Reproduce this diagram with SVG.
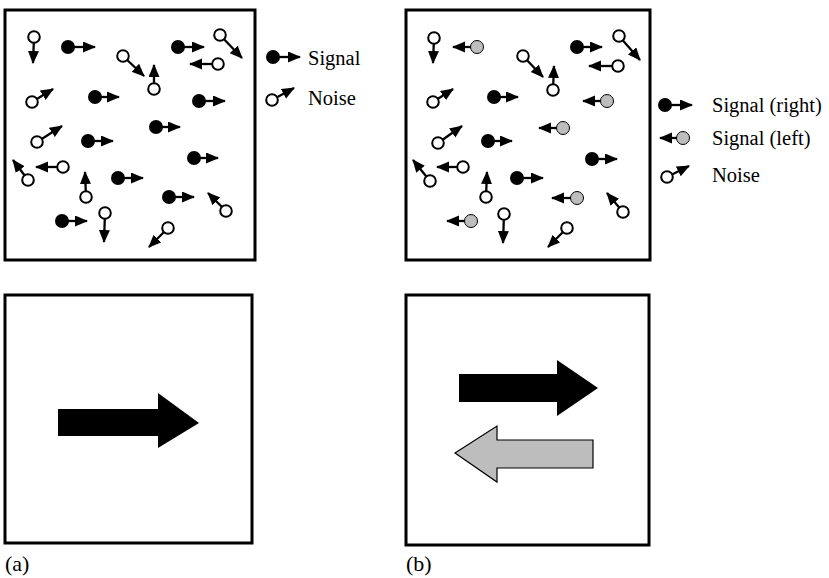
<svg xmlns="http://www.w3.org/2000/svg" width="829" height="578" viewBox="0 0 829 578">
<style>
.box{fill:none;stroke:#000;stroke-width:3}
.ln{stroke:#000;stroke-width:2.3;marker-end:url(#ah)}
.sig{fill:#000}
.gs{fill:#bdbdbd;stroke:#000;stroke-width:1}
.nz{fill:#fff;stroke:#000;stroke-width:2}
.t{font-family:"Liberation Serif","Times New Roman",serif;font-size:20.5px;fill:#000}
.lab{font-family:"Liberation Serif","Times New Roman",serif;font-size:22px;fill:#000}
</style>
<defs>
<marker id="ah" markerUnits="userSpaceOnUse" markerWidth="16" markerHeight="12" refX="12" refY="5.5" orient="auto">
<path d="M0,0 L13,5.5 L0,11 z" fill="#000"/>
</marker>
</defs>
<rect width="829" height="578" fill="#fff"/>

<g id="panel-a-top">
<rect class="box" x="5" y="10" width="250" height="250"/>
<g id="a-signals">
<line class="ln" x1="68" y1="47" x2="95" y2="47"/><circle class="sig" cx="68" cy="47" r="7"/>
<line class="ln" x1="178" y1="47" x2="204" y2="47"/><circle class="sig" cx="178" cy="47" r="7"/>
<line class="ln" x1="95" y1="97" x2="119" y2="97"/><circle class="sig" cx="95" cy="97" r="7"/>
<line class="ln" x1="199" y1="101" x2="225" y2="101"/><circle class="sig" cx="199" cy="101" r="7"/>
<line class="ln" x1="156" y1="127" x2="180" y2="127"/><circle class="sig" cx="156" cy="127" r="7"/>
<line class="ln" x1="88" y1="141" x2="113" y2="141"/><circle class="sig" cx="88" cy="141" r="7"/>
<line class="ln" x1="194" y1="158" x2="218" y2="158"/><circle class="sig" cx="194" cy="158" r="7"/>
<line class="ln" x1="118" y1="178" x2="143" y2="178"/><circle class="sig" cx="118" cy="178" r="7"/>
<line class="ln" x1="169" y1="197" x2="194" y2="197"/><circle class="sig" cx="169" cy="197" r="7"/>
<line class="ln" x1="62" y1="221" x2="87" y2="221"/><circle class="sig" cx="62" cy="221" r="7"/>
</g>
<g id="a-noise">
<line class="ln" x1="34" y1="37" x2="33" y2="63"/><circle class="nz" cx="34" cy="37" r="5.8"/>
<line class="ln" x1="123" y1="56" x2="144" y2="76"/><circle class="nz" cx="123" cy="56" r="5.8"/>
<line class="ln" x1="220" y1="35" x2="242" y2="58"/><circle class="nz" cx="220" cy="35" r="5.8"/>
<line class="ln" x1="218" y1="64" x2="190" y2="64"/><circle class="nz" cx="218" cy="64" r="5.8"/>
<line class="ln" x1="154" y1="89" x2="154" y2="65"/><circle class="nz" cx="154" cy="89" r="5.8"/>
<line class="ln" x1="32" y1="102" x2="53" y2="89"/><circle class="nz" cx="32" cy="102" r="5.8"/>
<line class="ln" x1="37" y1="142" x2="62" y2="126"/><circle class="nz" cx="37" cy="142" r="5.8"/>
<line class="ln" x1="63" y1="167" x2="36" y2="167"/><circle class="nz" cx="63" cy="167" r="5.8"/>
<line class="ln" x1="28" y1="180" x2="13" y2="160"/><circle class="nz" cx="28" cy="180" r="5.8"/>
<line class="ln" x1="86" y1="197" x2="85" y2="172"/><circle class="nz" cx="86" cy="197" r="5.8"/>
<line class="ln" x1="105" y1="213" x2="104" y2="242"/><circle class="nz" cx="105" cy="213" r="5.8"/>
<line class="ln" x1="226" y1="211" x2="208" y2="193"/><circle class="nz" cx="226" cy="211" r="5.8"/>
<line class="ln" x1="168" y1="228" x2="149" y2="247"/><circle class="nz" cx="168" cy="228" r="5.8"/>
</g>
</g>

<g id="legend-a">
<line class="ln" x1="273" y1="57" x2="300" y2="57"/><circle class="sig" cx="273" cy="57" r="7"/>
<text class="t" x="308" y="65">Signal</text>
<line class="ln" x1="272" y1="100" x2="294" y2="88"/><circle class="nz" cx="272" cy="100" r="5.8"/>
<text class="t" x="308" y="105">Noise</text>
</g>

<g id="panel-b-top">
<rect class="box" x="406" y="10" width="244" height="250"/>
<g id="b-signals">
<line class="ln" x1="477" y1="47" x2="453" y2="47"/><circle class="gs" cx="477" cy="47" r="6.5"/>
<line class="ln" x1="577" y1="47" x2="602" y2="47"/><circle class="sig" cx="577" cy="47" r="7"/>
<line class="ln" x1="494" y1="97" x2="518" y2="97"/><circle class="sig" cx="494" cy="97" r="7"/>
<line class="ln" x1="607" y1="101" x2="583" y2="101"/><circle class="gs" cx="607" cy="101" r="6.5"/>
<line class="ln" x1="563" y1="128" x2="539" y2="128"/><circle class="gs" cx="563" cy="128" r="6.5"/>
<line class="ln" x1="488" y1="141" x2="512" y2="141"/><circle class="sig" cx="488" cy="141" r="7"/>
<line class="ln" x1="592" y1="159" x2="617" y2="159"/><circle class="sig" cx="592" cy="159" r="7"/>
<line class="ln" x1="517" y1="178" x2="543" y2="178"/><circle class="sig" cx="517" cy="178" r="7"/>
<line class="ln" x1="577" y1="198" x2="552" y2="198"/><circle class="gs" cx="577" cy="198" r="6.5"/>
<line class="ln" x1="471" y1="221" x2="447" y2="221"/><circle class="gs" cx="471" cy="221" r="6.5"/>
</g>
<g id="b-noise">
<line class="ln" x1="434" y1="38" x2="433" y2="63"/><circle class="nz" cx="434" cy="38" r="5.8"/>
<line class="ln" x1="523" y1="56" x2="543" y2="77"/><circle class="nz" cx="523" cy="56" r="5.8"/>
<line class="ln" x1="619" y1="36" x2="640" y2="60"/><circle class="nz" cx="619" cy="36" r="5.8"/>
<line class="ln" x1="618" y1="66" x2="589" y2="66"/><circle class="nz" cx="618" cy="66" r="5.8"/>
<line class="ln" x1="553" y1="90" x2="554" y2="66"/><circle class="nz" cx="553" cy="90" r="5.8"/>
<line class="ln" x1="433" y1="102" x2="453" y2="89"/><circle class="nz" cx="433" cy="102" r="5.8"/>
<line class="ln" x1="438" y1="143" x2="462" y2="126"/><circle class="nz" cx="438" cy="143" r="5.8"/>
<line class="ln" x1="463" y1="167" x2="437" y2="167"/><circle class="nz" cx="463" cy="167" r="5.8"/>
<line class="ln" x1="430" y1="181" x2="413" y2="160"/><circle class="nz" cx="430" cy="181" r="5.8"/>
<line class="ln" x1="486" y1="197" x2="487" y2="172"/><circle class="nz" cx="486" cy="197" r="5.8"/>
<line class="ln" x1="504" y1="214" x2="503" y2="243"/><circle class="nz" cx="504" cy="214" r="5.8"/>
<line class="ln" x1="623" y1="212" x2="607" y2="193"/><circle class="nz" cx="623" cy="212" r="5.8"/>
<line class="ln" x1="567" y1="228" x2="548" y2="247"/><circle class="nz" cx="567" cy="228" r="5.8"/>
</g>
</g>

<g id="legend-b">
<line class="ln" x1="665" y1="105" x2="692" y2="105"/><circle class="sig" cx="665" cy="105" r="7"/>
<text class="t" x="712" y="112">Signal (right)</text>
<line class="ln" x1="683" y1="138" x2="660" y2="138"/><circle class="gs" cx="683" cy="138" r="6.5"/>
<text class="t" x="712" y="145">Signal (left)</text>
<line class="ln" x1="667" y1="177" x2="689" y2="166"/><circle class="nz" cx="667" cy="177" r="5.8"/>
<text class="t" x="712" y="182">Noise</text>
</g>

<g id="panel-a-bottom">
<rect class="box" x="5" y="295" width="247" height="248"/>
<path d="M58,409 L158,409 L158,393 L199,423 L158,448 L158,436 L58,436 Z" fill="#000"/>
</g>

<g id="panel-b-bottom">
<rect class="box" x="406" y="295" width="243" height="250"/>
<path d="M459,374 L557,374 L557,360 L598,388 L557,416 L557,402 L459,402 Z" fill="#000"/>
<path d="M593,440 L497,440 L497,426 L455,453 L497,482 L497,468 L593,468 Z" fill="#bdbdbd" stroke="#000" stroke-width="1.2"/>
</g>

<text class="lab" x="5" y="571">(a)</text>
<text class="lab" x="406" y="571">(b)</text>
</svg>
